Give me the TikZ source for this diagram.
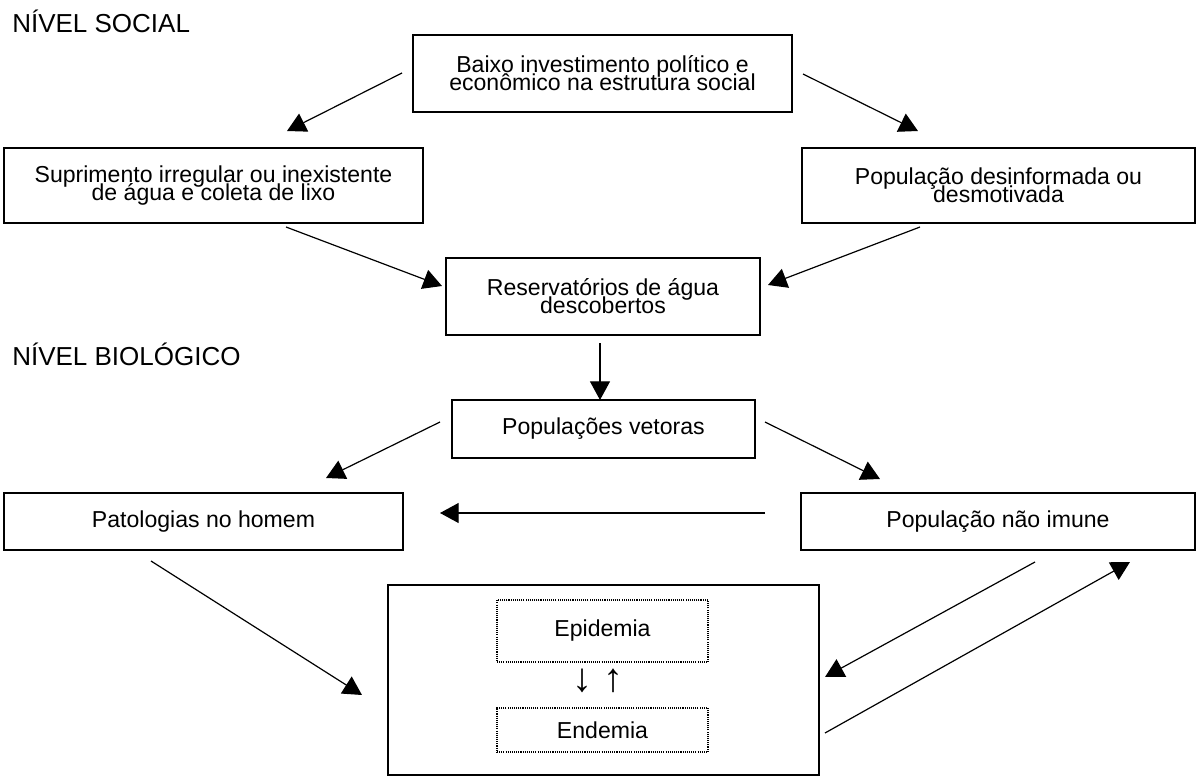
\documentclass[tikz,border=0pt]{standalone}
\usepackage{fontspec}
\setmainfont{Liberation Sans}
\usetikzlibrary{arrows.meta}
\newcommand\mytightlines{\lineskiplimit=-30pt\relax\lineskip=0pt\relax}
\tikzset{
  boxtxt/.style={font=\fontsize{17.3}{13.4}\selectfont\mytightlines},
  solidbox/.style={draw, line width=1.5pt, rectangle, inner sep=0pt, outer sep=0pt, align=center, boxtxt},
  dotbox/.style={draw, line width=0.8pt, dash pattern=on 0.8pt off 0.8pt, rectangle, inner sep=0pt, outer sep=0pt, align=center, boxtxt},
  heading/.style={anchor=west, inner sep=0pt, font=\fontsize{19.5}{20}\selectfont},
  conn/.style={line width=0.9pt, -{Triangle[length=14pt,width=15pt]}}
}
\begin{document}
\begin{tikzpicture}[x=0.75pt,y=-0.75pt]
\useasboundingbox (0,0) rectangle (1197,778);
% headings
\node[heading] (hsoc) at (12,21) {NÍVEL SOCIAL};
\node[heading] (hbio) at (12,354) {NÍVEL BIOLÓGICO};
% boxes
\node[solidbox, minimum width=284.25pt, minimum height=57.75pt] (soc) at (602.5,73.5) {Baixo investimento político e\\econômico na estrutura social};
\node[solidbox, minimum width=314.25pt, minimum height=56.25pt] (sup) at (213.5,185.5) {Suprimento irregular ou inexistente\\de água e coleta de lixo};
\node[solidbox, minimum width=294.75pt, minimum height=56.25pt] (pop) at (998.5,185.5) {População desinformada ou\\desmotivada};
\node[solidbox, minimum width=235.5pt, minimum height=57.75pt] (res) at (603,296.5) {Reservatórios de água\\descobertos};
\node[solidbox, minimum width=227.25pt, minimum height=43.5pt] (vet) at (603.5,429) {Populações vetoras};
\node[solidbox, minimum width=299.25pt, minimum height=42.75pt] (pat) at (203.5,521.5) {Patologias no homem};
\node[solidbox, minimum width=295.5pt, minimum height=42.75pt] (imu) at (998,521.5) {População não imune};
\node[solidbox, minimum width=323.25pt, minimum height=142.5pt] (big) at (603.5,680) {};
\node[dotbox, minimum width=158.25pt, minimum height=46.5pt] (epi) at (602.5,631) {Epidemia};
\node[dotbox, minimum width=158.25pt, minimum height=33pt] (end) at (602.5,730) {Endemia};
\node[inner sep=0pt, font=\fontsize{30}{30}\selectfont] (ud) at (598,681) {↓\hspace{8pt}↑};
% connector end points
\coordinate (a1s) at (402,73);   \coordinate (a1e) at (287,131);
\coordinate (a2s) at (803,74);   \coordinate (a2e) at (918,131);
\coordinate (a3s) at (286,227);  \coordinate (a3e) at (442,286);
\coordinate (a4s) at (920,227);  \coordinate (a4e) at (768,285);
\coordinate (a5s) at (600,343);  \coordinate (a5e) at (600,400);
\coordinate (a6s) at (440,422);  \coordinate (a6e) at (326,478);
\coordinate (a7s) at (765,422);  \coordinate (a7e) at (880,479);
\coordinate (a8s) at (765,513);  \coordinate (a8e) at (440,513);
\coordinate (a9s) at (151,561);  \coordinate (a9e) at (362,695);
\coordinate (a10s) at (1035,562); \coordinate (a10e) at (825,677);
\coordinate (a11s) at (825,733); \coordinate (a11e) at (1130,562);
% connectors
\draw[conn] (a1s) -- (a1e);
\draw[conn] (a2s) -- (a2e);
\draw[conn] (a3s) -- (a3e);
\draw[conn] (a4s) -- (a4e);
\draw[conn] (a5s) -- (a5e);
\draw[conn] (a6s) -- (a6e);
\draw[conn] (a7s) -- (a7e);
\draw[conn] (a8s) -- (a8e);
\draw[conn] (a9s) -- (a9e);
\draw[conn] (a10s) -- (a10e);
\draw[conn] (a11s) -- (a11e);
\end{tikzpicture}
\end{document}
